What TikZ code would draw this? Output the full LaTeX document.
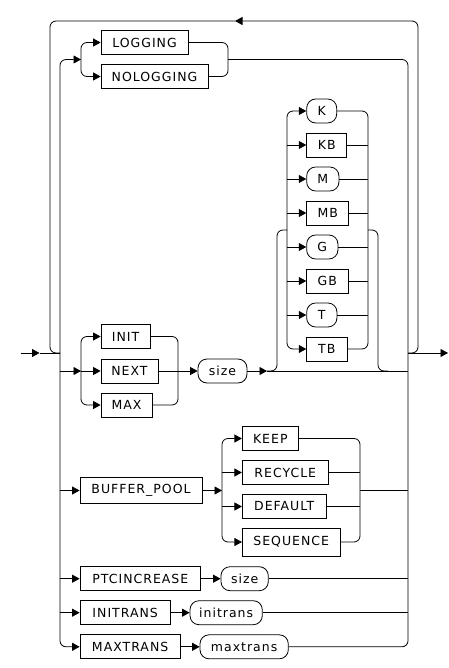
\documentclass[tikz,border=0pt]{standalone}
\usepackage{fontspec}
\newfontfamily\diagfont{DejaVu Sans}[LetterSpace=8]
\usetikzlibrary{arrows.meta}
\tikzset{
  line/.style={line width=0.8pt, black},
  tip/.style={-{Triangle[length=7.5pt,width=8pt]}},
  kw/.style={draw, line width=0.8pt, rectangle, minimum height=24pt, inner sep=0pt,
    font=\diagfont\fontsize{12.5}{14}\selectfont},
  var/.style={kw, rounded corners=9pt},
  rc/.style={rounded corners=6pt}
}
\begin{document}
\begin{tikzpicture}[x=1pt,y=-1pt]
\fill[white] (0,0) rectangle (448,668);
\useasboundingbox (0,0) rectangle (448,668);

% nodes
\node[kw, minimum width=87pt] (logging) at (144.5,42.5) {LOGGING};
\node[kw, minimum width=107pt] (nologging) at (154.5,76.5) {NOLOGGING};
\node[var, minimum width=30pt] (K) at (321.7,111) {K};
\node[kw, minimum width=40pt] (KB) at (326.7,145) {KB};
\node[var, minimum width=32.3pt] (M) at (322.8,179) {M};
\node[kw, minimum width=42pt] (MB) at (327.7,213) {MB};
\node[var, minimum width=31.3pt] (G) at (322.3,247) {G};
\node[kw, minimum width=41.3pt] (GB) at (327.3,281) {GB};
\node[var, minimum width=30.3pt] (T) at (321.8,315) {T};
\node[kw, minimum width=40.3pt] (TB) at (326.8,349) {TB};
\node[kw, minimum width=49pt] (init) at (125.5,336.5) {INIT};
\node[kw, minimum width=57pt] (next) at (129.5,371) {NEXT};
\node[kw, minimum width=51pt] (max) at (126.5,405) {MAX};
\node[var, minimum width=49pt] (size) at (222.5,371) {size};
\node[kw, minimum width=122pt, minimum height=26pt] (buffer) at (141,490.5) {BUFFER\_POOL};
\node[kw, minimum width=56pt] (keep) at (270.3,438.5) {KEEP};
\node[kw, minimum width=86pt] (recycle) at (285.3,472.5) {RECYCLE};
\node[kw, minimum width=83.7pt] (default) at (284.2,506.5) {DEFAULT};
\node[kw, minimum width=97.7pt, minimum height=28pt] (sequence) at (291.2,542) {SEQUENCE};
\node[kw, minimum width=120.7pt] (ptc) at (140.35,578.7) {PTCINCREASE};
\node[var, minimum width=47.3pt] (sizeb) at (244.65,578.7) {size};
\node[kw, minimum width=90.3pt] (initrans) at (125.15,612.7) {INITRANS};
\node[var, minimum width=72.3pt] (initransv) at (226.15,612.7) {initrans};
\node[kw, minimum width=100.3pt] (maxtrans) at (130.15,646.8) {MAXTRANS};
\node[var, minimum width=88.3pt] (maxtransv) at (244.15,646.8) {maxtrans};

% coordinates
\coordinate (in) at (20.5,353);
\coordinate (inar) at (39.5,353);
\coordinate (jl) at (60,353);
\coordinate (jr) at (408,353);
\coordinate (out) at (448,353);
\coordinate (loopR) at (418,21);
\coordinate (looptip) at (235,21);
\coordinate (loopL) at (50,353);
\coordinate (lj) at (81,59.5);
\coordinate (lo) at (228,59.5);
\coordinate (ij) at (81,371);
\coordinate (io) at (178,371);
\coordinate (ua) at (267,371);
\coordinate (uj) at (287,230);
\coordinate (uo) at (368,230);
\coordinate (bj) at (222,490.5);
\coordinate (bo) at (360,490.5);

% entry, exit, loop
\draw[line,tip] (in) -- (inar);
\draw[line] (inar) -- (jl);
\draw[line,tip] (jr) -- (out);
\draw[line,rc,tip] (jr) -| (loopR) -- (looptip);
\draw[line,rc] (looptip) -| (loopL) -- (jl);

% LOGGING / NOLOGGING
\draw[line,rc,tip] (jl) |- (lj);
\draw[line,rc,tip] (lj) |- (logging.west);
\draw[line,rc,tip] (lj) |- (nologging.west);
\draw[line,rc] (logging.east) -| (lo);
\draw[line,rc] (nologging.east) -| (lo);
\draw[line,rc] (lo) -| (jr);

% INIT / NEXT / MAX
\draw[line,tip] (jl |- ij) -- (ij);
\draw[line,rc,tip] (ij) |- (init.west);
\draw[line,tip] (ij) -- (next.west);
\draw[line,rc,tip] (ij) |- (max.west);
\draw[line,rc] (init.east) -| (io);
\draw[line,rc] (max.east) -| (io);
\draw[line,tip] (next.east) -- (size.west);
\draw[line,tip] (size.east) -- (ua);
\draw[line] (ua) -- (jr |- ua);

% units
\draw[line,rc] (ua) -| (277,230) -- (uj);
\draw[line,rc,tip] (uj) |- (K.west);
\draw[line,rc,tip] (uj) |- (TB.west);
\draw[line,tip] (uj |- KB.west) -- (KB.west);
\draw[line,tip] (uj |- M.west) -- (M.west);
\draw[line,tip] (uj |- MB.west) -- (MB.west);
\draw[line,tip] (uj |- G.west) -- (G.west);
\draw[line,tip] (uj |- GB.west) -- (GB.west);
\draw[line,tip] (uj |- T.west) -- (T.west);
\draw[line,rc] (K.east) -| (uo);
\draw[line,rc] (TB.east) -| (uo);
\draw[line] (KB.east) -- (uo |- KB.east);
\draw[line] (M.east) -- (uo |- M.east);
\draw[line] (MB.east) -- (uo |- MB.east);
\draw[line] (G.east) -- (uo |- G.east);
\draw[line] (GB.east) -- (uo |- GB.east);
\draw[line] (T.east) -- (uo |- T.east);
\draw[line,rc] (uo) -| (378,371) -- (388,371);

% BUFFER_POOL
\draw[line,tip] (jl |- buffer.west) -- (buffer.west);
\draw[line,tip] (buffer.east) -- (bj);
\draw[line,rc,tip] (bj) |- (keep.west);
\draw[line,rc,tip] (bj) |- (sequence.west);
\draw[line,tip] (bj |- recycle.west) -- (recycle.west);
\draw[line,tip] (bj |- default.west) -- (default.west);
\draw[line,rc] (keep.east) -| (bo);
\draw[line,rc] (sequence.east) -| (bo);
\draw[line] (recycle.east) -- (bo |- recycle.east);
\draw[line] (default.east) -- (bo |- default.east);
\draw[line] (bo) -- (jr |- bo);

% PTCINCREASE
\draw[line,tip] (jl |- ptc.west) -- (ptc.west);
\draw[line,tip] (ptc.east) -- (sizeb.west);
\draw[line] (sizeb.east) -- (jr |- sizeb.east);

% INITRANS
\draw[line,tip] (jl |- initrans.west) -- (initrans.west);
\draw[line,tip] (initrans.east) -- (initransv.west);
\draw[line] (initransv.east) -- (jr |- initransv.east);

% MAXTRANS
\draw[line,rc,tip] (jl) |- (maxtrans.west);
\draw[line,tip] (maxtrans.east) -- (maxtransv.west);
\draw[line,rc] (maxtransv.east) -| (jr);
\end{tikzpicture}
\end{document}
